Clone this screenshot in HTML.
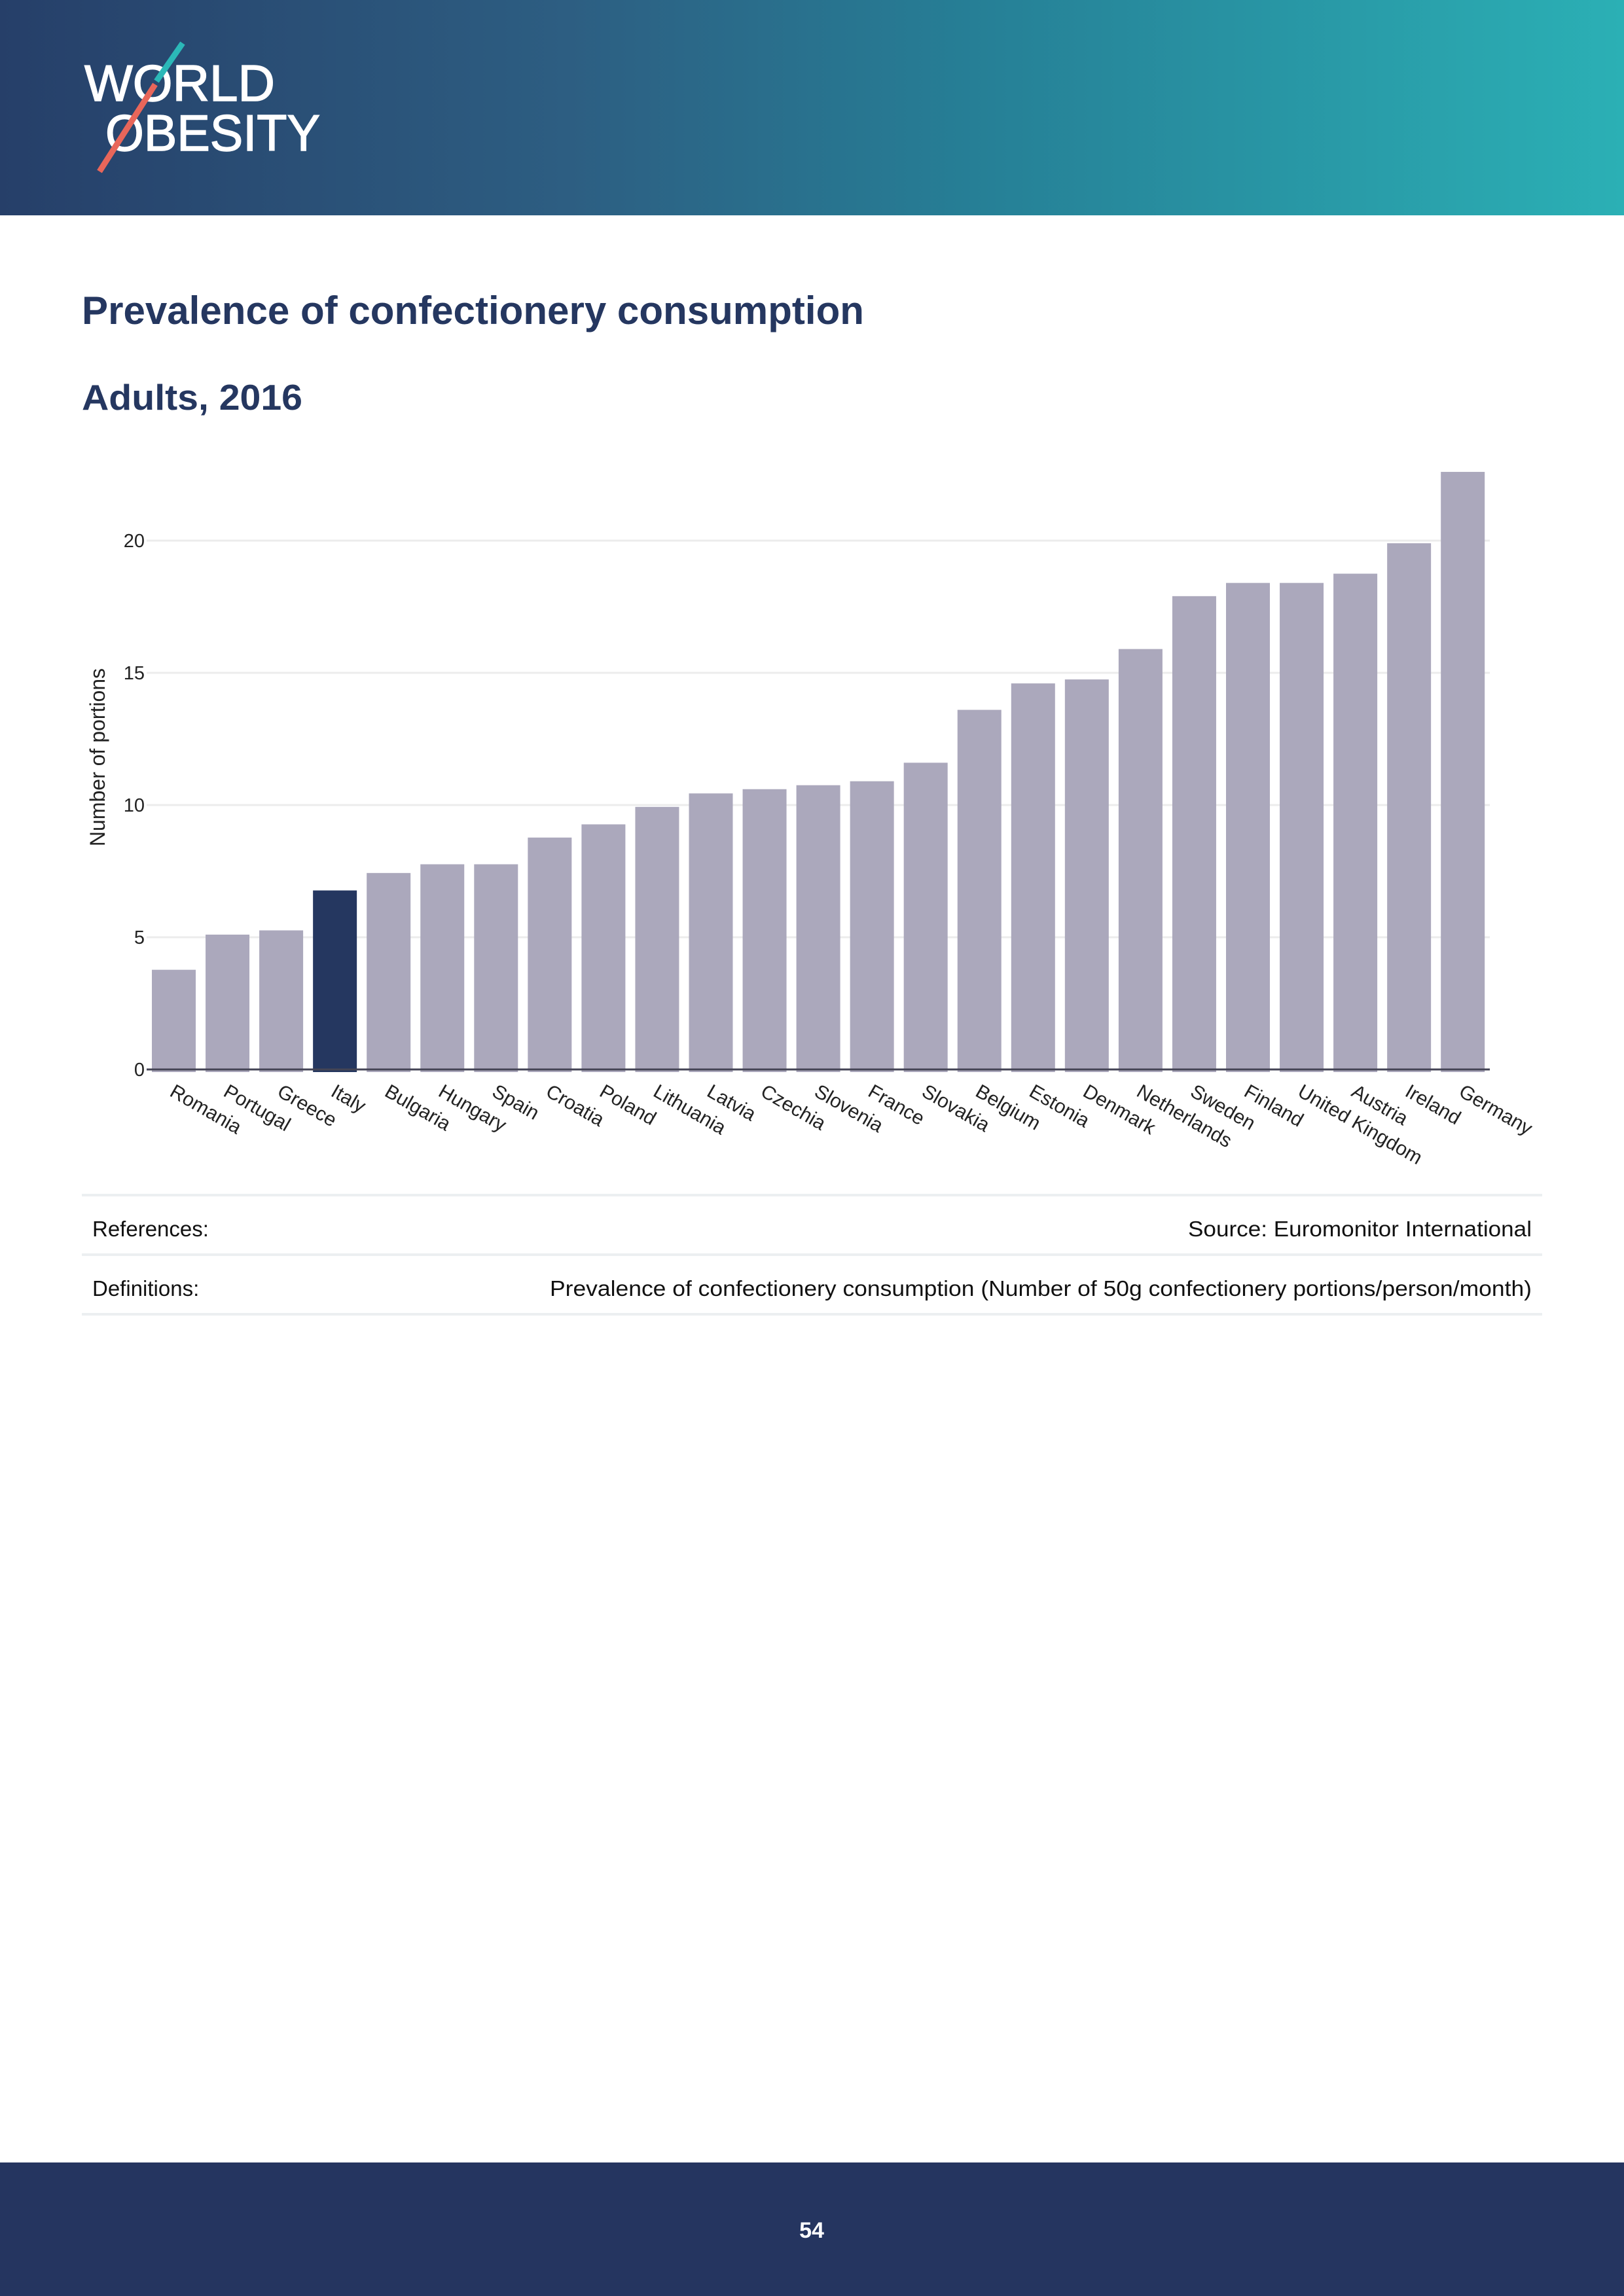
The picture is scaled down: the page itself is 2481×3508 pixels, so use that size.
<!DOCTYPE html>
<html><head><meta charset="utf-8"><style>
html,body{margin:0;padding:0;background:#fff}
svg{display:block}
text{font-family:"Liberation Sans",sans-serif}
</style></head><body>
<svg id="page" width="2481" height="3508" viewBox="0 0 2481 3508" xmlns="http://www.w3.org/2000/svg">
<defs>
<linearGradient id="hg" x1="0" y1="0" x2="1" y2="0">
<stop offset="0" stop-color="#263f69"/><stop offset="0.35" stop-color="#2d5e82"/><stop offset="0.6" stop-color="#267f96"/><stop offset="1" stop-color="#2bb0b5"/>
</linearGradient>
</defs>
<rect x="0" y="0" width="2481" height="329" fill="url(#hg)"/>
<g>
<text x="129" y="154" font-size="78" fill="#fff" stroke="#fff" stroke-width="1.5" textLength="291" lengthAdjust="spacingAndGlyphs">WORLD</text>
<text x="161" y="230" font-size="78" fill="#fff" stroke="#fff" stroke-width="1.5" textLength="328" lengthAdjust="spacingAndGlyphs">OBESITY</text>
<line x1="279" y1="66" x2="239" y2="124" stroke="#2bb8b8" stroke-width="9"/>
<line x1="237" y1="129" x2="152" y2="262" stroke="#e8665a" stroke-width="9"/>
</g>
<text x="125" y="495" font-size="60" font-weight="bold" fill="#253760" textLength="1195" lengthAdjust="spacingAndGlyphs">Prevalence of confectionery consumption</text>
<text x="125" y="626" font-size="55" font-weight="bold" fill="#253760" textLength="337" lengthAdjust="spacingAndGlyphs">Adults, 2016</text>
<g id="chart"></g>
<g>
<rect x="125" y="1824" width="2231" height="4" fill="#eceff1"/>
<rect x="125" y="1915" width="2231" height="4" fill="#eceff1"/>
<rect x="125" y="2006" width="2231" height="4" fill="#eceff1"/>
<text x="141" y="1889" font-size="33" fill="#111">References:</text>
<text x="2340" y="1889" font-size="33" fill="#111" text-anchor="end" textLength="525" lengthAdjust="spacingAndGlyphs">Source: Euromonitor International</text>
<text x="141" y="1980" font-size="33" fill="#111">Definitions:</text>
<text x="2340" y="1980" font-size="33" fill="#111" text-anchor="end" textLength="1500" lengthAdjust="spacingAndGlyphs">Prevalence of confectionery consumption (Number of 50g confectionery portions/person/month)</text>
</g>
<rect x="0" y="3304" width="2481" height="204" fill="#253560"/>
<text x="1240" y="3419" font-size="34" font-weight="bold" fill="#fff" text-anchor="middle">54</text>
</svg>
<script>
const categories = ["Romania","Portugal","Greece","Italy","Bulgaria","Hungary","Spain","Croatia","Poland","Lithuania","Latvia","Czechia","Slovenia","France","Slovakia","Belgium","Estonia","Denmark","Netherlands","Sweden","Finland","United Kingdom","Austria","Ireland","Germany"];
const values = [3.77,5.1,5.26,6.77,7.43,7.76,7.76,8.77,9.27,9.93,10.44,10.6,10.75,10.9,11.6,13.6,14.6,14.75,15.9,17.9,18.4,18.4,18.75,19.9,22.6];
const highlighted = ["Italy"];
const yTicks = [0,5,10,15,20];
const yTickLabels = ["0","5","10","15","20"];

const NS = "http://www.w3.org/2000/svg";
const chart = document.getElementById("chart");
const plotLeft = 224, plotRight = 2276, y0 = 1634, pxPerUnit = 40.4;
const firstCenter = 265.5, pitch = 82.05, barW = 67;
function yScale(v){ return y0 - v * pxPerUnit; }
function xScale(i){ return firstCenter + i * pitch; }
function mk(tag, attrs){ const e = document.createElementNS(NS, tag); for (const k in attrs) e.setAttribute(k, attrs[k]); return e; }

yTicks.forEach((t, i) => {
  if (t !== 0) {
    const g = mk("line", {x1: plotLeft, x2: plotRight, y1: yScale(t), y2: yScale(t), stroke: "#ececec", "stroke-width": 3});
    
    
    chart.appendChild(g);
  }
  const lab = mk("text", {x: 221, y: yScale(t) + 10, "font-size": 29, fill: "#222", "text-anchor": "end"});
  lab.textContent = yTickLabels[i];
  
  
  chart.appendChild(lab);
});

categories.forEach((c, i) => {
  const v = values[i];
  const r = mk("rect", {x: xScale(i) - barW / 2, y: yScale(v), width: barW, height: v * pxPerUnit + 4, fill: highlighted.includes(c) ? "#253760" : "#aba8bc"});
  
  
  chart.appendChild(r);
  const x = xScale(i) + 2, y = 1676;
  const t = mk("text", {x: x, y: y, "font-size": 30, fill: "#222", transform: "rotate(30 " + x + " " + (y - 20) + ")"});
  t.textContent = c;
  
  
  chart.appendChild(t);
});

const axis = mk("line", {x1: plotLeft, x2: plotRight, y1: y0, y2: y0, stroke: "#444455", "stroke-width": 3});


chart.appendChild(axis);

const yt = mk("text", {x: 160, y: 1157, "font-size": 32, fill: "#222", "text-anchor": "middle", transform: "rotate(-90 160 1157)"});
yt.textContent = "Number of portions";


chart.appendChild(yt);
</script>
</body></html>
